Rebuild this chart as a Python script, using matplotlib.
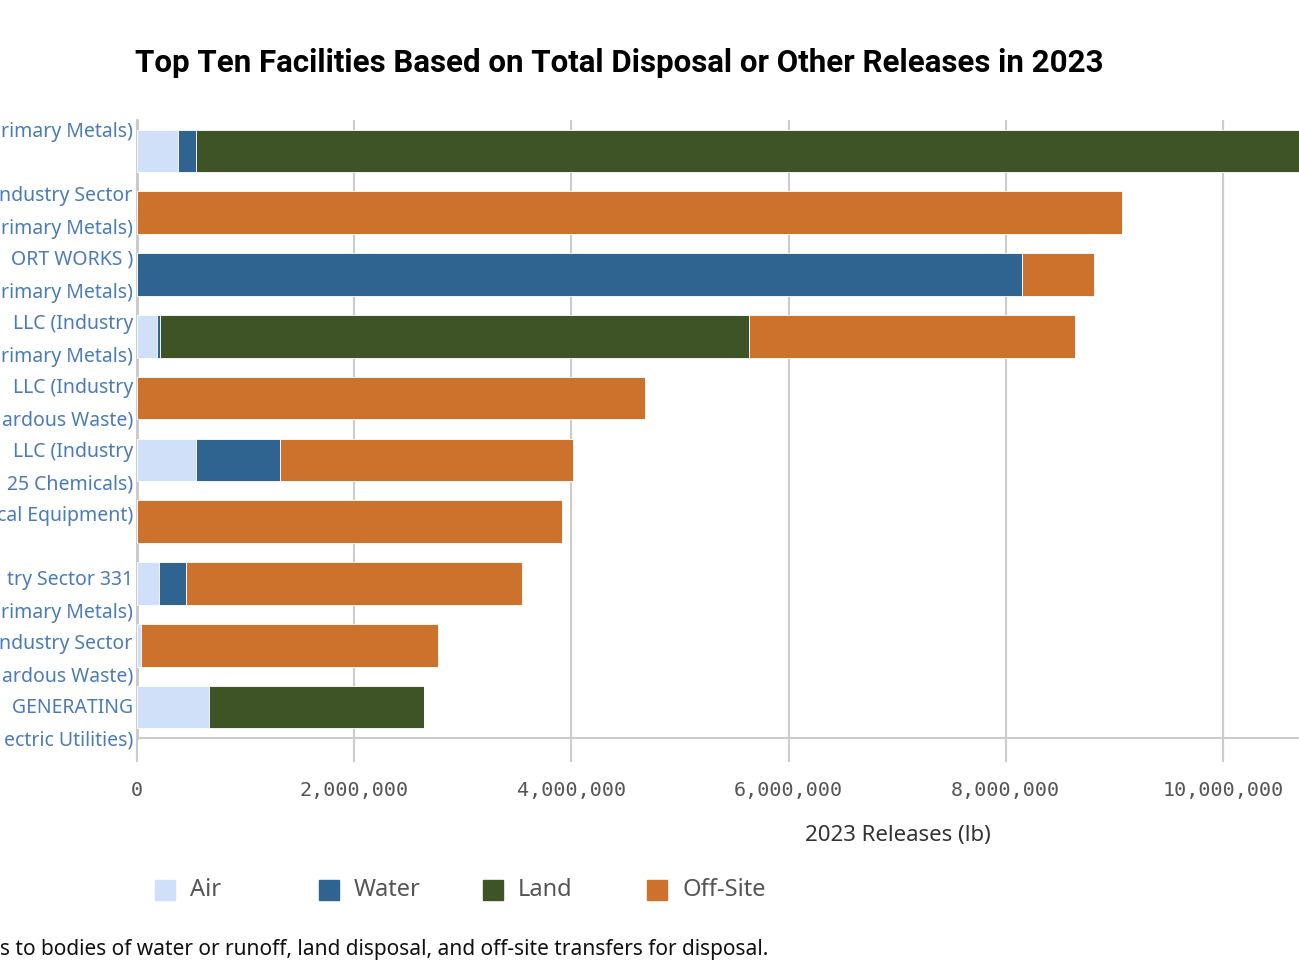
import matplotlib.pyplot as plt
import numpy as np
from matplotlib.patches import Rectangle

# visible (left-clipped) facility labels, two lines each
facility_labels = [
    "rimary Metals)\n ",
    "ndustry Sector\nrimary Metals)",
    "ORT WORKS )\nrimary Metals)",
    " LLC (Industry\nrimary Metals)",
    " LLC (Industry\nardous Waste)",
    " LLC (Industry\n25 Chemicals)",
    "cal Equipment)\n ",
    "try Sector 331\nrimary Metals)",
    "ndustry Sector\nardous Waste)",
    " GENERATING\nectric Utilities)",
]

# releases in lb
air = [378000, 0, 0, 184000, 0, 543000, 0, 203000, 37000, 660000]
water = [165000, 0, 8150000, 25000, 0, 774000, 0, 248000, 0, 0]
land = [10600000, 0, 0, 5430000, 0, 0, 0, 0, 0, 1985000]
offsite = [0, 9070000, 660000, 3000000, 4680000, 2700000, 3910000, 3094000, 2735000, 0]

series = ['Air', 'Water', 'Land', 'Off-Site']
colors = ['#cfe0f8', '#2f6491', '#3f5426', '#cd722d']

fig = plt.figure(figsize=(12.99, 9.74), dpi=100)
ax = fig.add_axes([137 / 1299, 1 - 738 / 974, 1 - 137 / 1299, (738 - 120) / 974])

y_pos = np.arange(len(facility_labels))
left = np.zeros(len(y_pos))
for vals, c in zip([air, water, land, offsite], colors):
    ax.barh(y_pos, vals, left=left, height=0.69, color=c,
            edgecolor='#ffffff', linewidth=0.6, zorder=3)
    left = left + np.array(vals)

ax.set_xlim(0, 10700000)
ax.set_ylim(9.5, -0.5)

ax.set_xticks(np.arange(0, 10000001, 2000000))
ax.set_xticklabels(['{:,}'.format(v) for v in range(0, 10000001, 2000000)],
                   fontfamily='DejaVu Sans Mono', fontsize=14.5, color='#555555')
ax.grid(axis='x', color='#cccccc', linewidth=1.5, zorder=0)
ax.tick_params(axis='x', length=17, width=1.5, color='#cccccc', pad=14)

# label block in the original is spaced a little wider than the bars
ax.set_yticks(y_pos * 1.0356 - 0.19)
ax.set_yticklabels(facility_labels, fontfamily='Noto Sans', fontsize=14,
                   color='#4a7cb9', linespacing=1.87)
ax.tick_params(axis='y', length=0, pad=3)

for s in ['top', 'right']:
    ax.spines[s].set_visible(False)
ax.spines['left'].set_color('#c8c8c8')
ax.spines['left'].set_linewidth(2)
ax.spines['bottom'].set_color('#cccccc')
ax.spines['bottom'].set_linewidth(1.5)

fig.text(619 / 1299, 1 - 63 / 974,
         'Top Ten Facilities Based on Total Disposal or Other Releases in 2023',
         ha='center', va='center', fontsize=22.5, fontweight='bold',
         fontfamily='Roboto', color='#000000')

fig.text(898 / 1299, 1 - 836 / 974, '2023 Releases (lb)', ha='center',
         va='center', fontsize=16, fontfamily='Noto Sans', color='#333333')

# legend, evenly spaced entries
for i, (name, c) in enumerate(zip(series, colors)):
    x0 = (155 + 164 * i) / 1299
    fig.patches.append(Rectangle((x0, 1 - 900 / 974), 20 / 1299, 20 / 974,
                                 transform=fig.transFigure, color=c))
    fig.text(x0 + 35 / 1299, 1 - 890 / 974, name, ha='left', va='center',
             fontsize=17, fontfamily='Noto Sans', color='#555555')

fig.text(0, 1 - 950 / 974,
         's to bodies of water or runoff, land disposal, and off-site transfers for disposal.',
         ha='left', va='center', fontsize=15, fontfamily='Noto Sans',
         color='#111111')

fig.savefig('out.png', dpi=100)
